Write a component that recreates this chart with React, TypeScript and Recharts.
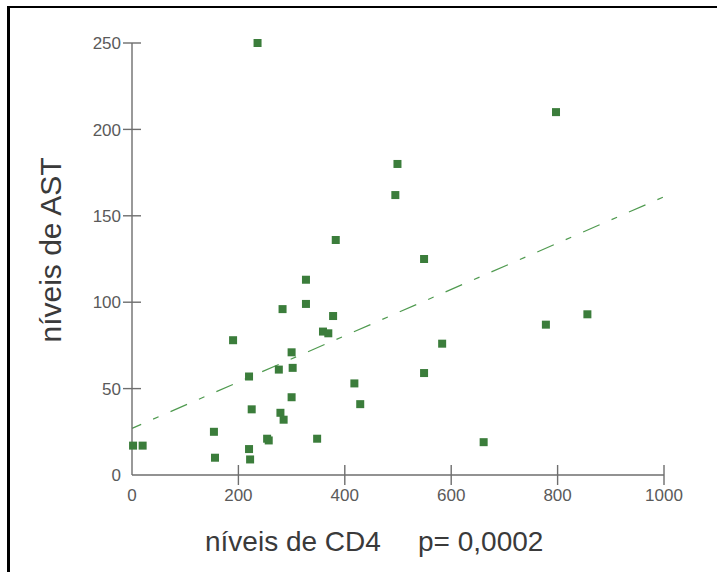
import { ScatterChart, Scatter, XAxis, YAxis, ReferenceLine, Label } from 'recharts';

// CD4 level (x) and AST level (y) for each patient
const cd4Values = [2, 20, 154, 156, 190, 220, 225, 220, 222, 254, 257, 276, 279, 285, 283, 300, 302, 300, 327, 327, 348, 359, 369, 378, 383, 418, 429, 495, 499, 549, 549, 583, 661, 778, 797, 856, 236];
const astValues = [17, 17, 25, 10, 78, 57, 38, 15, 9, 21, 20, 61, 36, 32, 96, 71, 62, 45, 113, 99, 21, 83, 82, 92, 136, 53, 41, 162, 180, 125, 59, 76, 19, 87, 210, 93, 250];

const xTicks = [0, 200, 400, 600, 800, 1000];
const yTicks = [0, 50, 100, 150, 200, 250];

// regression line end points
const trendX = [0, 1000];
const trendY = [27, 161];

const points = cd4Values.map((x, i) => ({ cd4: x, ast: astValues[i] }));

const axisColor = '#6e6e6e';
const tickColor = '#5a5a5a';
const markerColor = '#3b7d3b';
const font = '"Liberation Sans", Arial, sans-serif';

function Square(props: any) {
  const { cx, cy } = props;
  if (cx == null || cy == null) return null;
  return <rect x={cx - 4} y={cy - 4} width={8} height={8} fill={markerColor} />;
}

function YTick(props: any) {
  const { x, y, payload } = props;
  return (
    <g>
      {payload.value !== 0 && (
        <line x1={x - 9} x2={x + 9} y1={y} y2={y} stroke={axisColor} strokeWidth={1.4} />
      )}
      <text x={x - 11} y={y} dy="0.36em" textAnchor="end" fill={tickColor} fontSize={17} fontFamily={font}>
        {payload.value}
      </text>
    </g>
  );
}

function XTick(props: any) {
  const { x, y, payload } = props;
  return (
    <g>
      {payload.value !== 0 && (
        <line x1={x} x2={x} y1={y - 10} y2={y + 10} stroke={axisColor} strokeWidth={1.4} />
      )}
      <text x={x} y={y + 26} textAnchor="middle" fill={tickColor} fontSize={17} fontFamily={font}>
        {payload.value}
      </text>
    </g>
  );
}

export default function App() {
  return (
    <div style={{ position: 'absolute', left: 0, top: 0, width: 717, height: 572, background: '#fff' }}>
      <div
        style={{
          position: 'absolute',
          left: 7,
          top: 6,
          width: 710,
          height: 566,
          borderLeft: '3px solid #000',
          borderTop: '2px solid #000',
          boxSizing: 'border-box',
        }}
      />
      <div style={{ position: 'absolute', left: 0, top: 0 }}>
        <ScatterChart width={717} height={572} margin={{ top: 43, right: 53, bottom: 67, left: 72 }}>
          <XAxis
            type="number"
            dataKey="cd4"
            domain={[0, 1000]}
            ticks={xTicks}
            height={30}
            tickSize={0}
            tickMargin={0}
            tickLine={false}
            axisLine={{ stroke: axisColor, strokeWidth: 1.4 }}
            tick={<XTick />}
            interval={0}
          >
            <Label
              content={() => (
                <g fontFamily={font} fontSize={28} fill="#3a3a3a">
                  <text x={205} y={551}>níveis de CD4</text>
                  <text x={418} y={551}>p= 0,0002</text>
                </g>
              )}
            />
          </XAxis>
          <YAxis
            type="number"
            dataKey="ast"
            domain={[0, 250]}
            ticks={yTicks}
            width={60}
            tickSize={0}
            tickMargin={0}
            tickLine={false}
            axisLine={{ stroke: axisColor, strokeWidth: 1.4 }}
            tick={<YTick />}
            interval={0}
          >
            <Label
              content={() => (
                <text
                  transform="rotate(-90)"
                  x={-250}
                  y={61}
                  textAnchor="middle"
                  fontFamily={font}
                  fontSize={30}
                  fill="#3a3a3a"
                >
                  níveis de AST
                </text>
              )}
            />
          </YAxis>
          <ReferenceLine
            segment={[
              { x: trendX[0], y: trendY[0] },
              { x: trendX[1], y: trendY[1] },
            ]}
            stroke="#4f9a4f"
            strokeWidth={1.2}
            strokeDasharray="18 13 6 13"
            strokeDashoffset={8}
            ifOverflow="visible"
          />
          <Scatter data={points} shape={(p: any) => <Square {...p} />} isAnimationActive={false} />
        </ScatterChart>
      </div>
    </div>
  );
}
